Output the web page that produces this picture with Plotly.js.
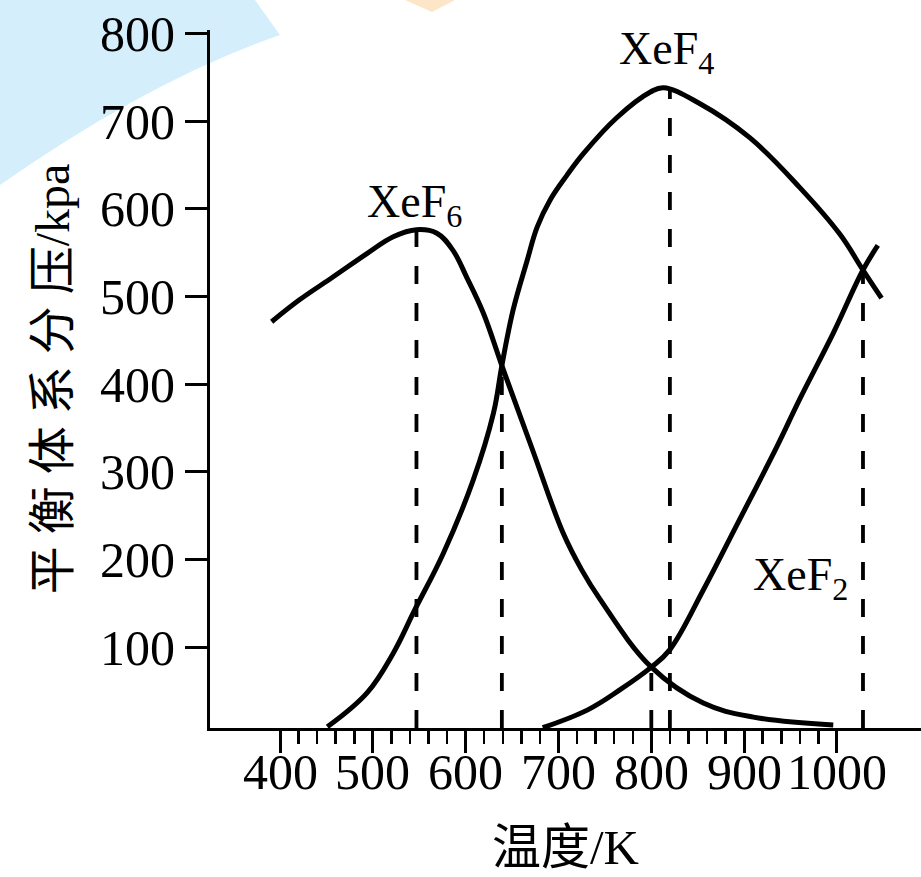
<!DOCTYPE html>
<html>
<head>
<meta charset="utf-8">
<script src="https://cdn.plot.ly/plotly-3.0.1.min.js"></script>
<style>html,body{margin:0;padding:0;background:#fff;}#chart{width:921px;height:877px;}</style>
</head>
<body>
<div id="chart"></div>
<script>
// ---- data ----
const xef6X = [391, 421, 457, 494, 522, 547, 569, 586, 601, 619, 639, 672, 705, 725, 745, 800, 856, 910, 996];
const xef6Y = [471, 496, 522, 549, 568, 576, 572, 553, 522, 481, 421, 325, 230, 188, 154, 77, 36, 20, 11];

const xef4X = [451, 494, 522, 545, 576, 608, 630, 639, 651, 666, 677, 691, 709, 727, 763, 799, 813, 852, 906, 960, 1003, 1028, 1048];
const xef4Y = [9, 48, 93, 142, 207, 290, 367, 421, 484, 540, 579, 610, 638, 663, 704, 733, 738, 720, 681, 624, 571, 530, 498];

const xef2X = [683, 731, 766, 800, 820, 856, 892, 935, 960, 996, 1028, 1044];
const xef2Y = [8, 28, 51, 77, 97, 165, 239, 328, 383, 458, 530, 558];

// dashed guide lines: temperature and the value where each ends
const guideX = [547, 639, 800, 820, 1028];
const guideTop = [576, 421, 77, 738, 530];

const xTicks = [400, 500, 600, 700, 800, 900, 1000];
const xTickText = ['400', '500', '600', '700', '800', '900', '1000'];
const xMinorTicks = [420,440,460,480,520,540,560,580,620,640,660,680,720,740,760,780,820,840,860,880,920,940,960,980];
const yTicks = [100, 200, 300, 400, 500, 600, 700, 800];

const seriesLabels = ['XeF<sub>6</sub>', 'XeF<sub>4</sub>', 'XeF<sub>2</sub>'];
const labelX = [545, 816, 961];
const labelY = [604, 779, 179];

const xTitle = '温度/K';
const yTitle = '平 衡 体 系 分 压/kpa';

// ---- chart ----
const X_RANGE = [324.6, 1090.5];
const Y_RANGE = [7.6, 803.8];
const FONT = 'Liberation Serif, Times New Roman, Noto Sans CJK SC, serif';

// decorative watermark (page pixels -> paper units of the plot area)
const PL = 210, PW = 711, PB = 728, PH = 698;
const px = v => (v - PL) / PW;
const py = v => (PB - v) / PH;
const blueMark = `M ${px(0)},${py(0)} L ${px(255)},${py(0)} L ${px(280)},${py(35)} Q ${px(150)},${py(80)} ${px(0)},${py(185)} Z`;
const orangeMark = `M ${px(405)},${py(0)} L ${px(455)},${py(0)} L ${px(432)},${py(12)} Z`;

const curveStyle = {color: '#000', width: 5, shape: 'spline', smoothing: 1.1};
const traces = [
  {x: xef6X, y: xef6Y, mode: 'lines', line: curveStyle, name: 'XeF6', hoverinfo: 'skip'},
  {x: xef4X, y: xef4Y, mode: 'lines', line: curveStyle, name: 'XeF4', hoverinfo: 'skip'},
  {x: xef2X, y: xef2Y, mode: 'lines', line: curveStyle, name: 'XeF2', hoverinfo: 'skip'}
];
guideX.forEach((gx, i) => {
  traces.push({x: [gx, gx], y: [Y_RANGE[0], guideTop[i]], mode: 'lines',
    line: {color: '#000', width: 3.8, dash: '18px,19px'}, hoverinfo: 'skip', showlegend: false});
});

const annotations = seriesLabels.map((t, i) => ({
  x: labelX[i], y: labelY[i], xref: 'x', yref: 'y', text: t, showarrow: false,
  font: {family: FONT, size: 46, color: '#000'}
}));
// x tick labels sit just under the tick marks, as in the reference
xTicks.forEach((v, i) => {
  annotations.push({x: v, y: py(772), xref: 'x', yref: 'paper', text: xTickText[i],
    showarrow: false, yanchor: 'middle', xanchor: 'center',
    font: {family: FONT, size: 50, color: '#000'}});
});

const layout = {
  width: 921, height: 877,
  margin: {l: 210, r: 0, t: 30, b: 149},
  paper_bgcolor: '#fff', plot_bgcolor: 'rgba(0,0,0,0)',
  showlegend: false,
  font: {family: FONT, color: '#000'},
  shapes: [
    {type: 'path', xref: 'paper', yref: 'paper', path: blueMark, fillcolor: '#d4effb', line: {width: 0}, layer: 'below'},
    {type: 'path', xref: 'paper', yref: 'paper', path: orangeMark, fillcolor: '#fde6c8', line: {width: 0}, layer: 'below'}
  ],
  xaxis: {
    range: X_RANGE, showgrid: false, zeroline: false,
    showline: true, linecolor: '#000', linewidth: 3,
    tickmode: 'array', tickvals: xTicks, showticklabels: false,
    ticks: 'outside', ticklen: 22, tickwidth: 3, tickcolor: '#000',
    minor: {tickmode: 'array', tickvals: xMinorTicks, ticks: 'outside', ticklen: 13, tickwidth: 2.5, tickcolor: '#000', showgrid: false},
    title: {text: xTitle, font: {family: FONT, size: 49, color: '#000'}, standoff: 78}
  },
  yaxis: {
    range: Y_RANGE, showgrid: false, zeroline: false,
    showline: true, linecolor: '#000', linewidth: 3,
    tickmode: 'array', tickvals: yTicks, ticktext: yTicks.map(String),
    ticks: 'outside', ticklen: 22, tickwidth: 3, tickcolor: '#000',
    tickfont: {family: FONT, size: 50, color: '#000'},
    title: {text: yTitle, font: {family: FONT, size: 48, color: '#000'}, standoff: 16}
  },
  annotations: annotations
};

Plotly.newPlot('chart', traces, layout, {staticPlot: true, displayModeBar: false});
</script>
</body>
</html>
